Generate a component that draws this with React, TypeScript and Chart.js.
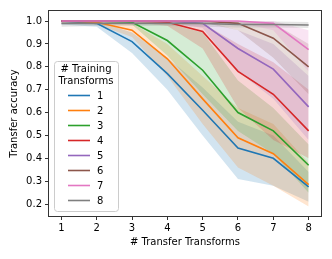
import React, { useEffect, useRef } from "react";
import { Chart, registerables } from "chart.js";

Chart.register(...registerables);

const xValues = [1, 2, 3, 4, 5, 6, 7, 8];
const xTicks = [1, 2, 3, 4, 5, 6, 7, 8];
const yTicks = [0.2, 0.3, 0.4, 0.5, 0.6, 0.7, 0.8, 0.9, 1.0];
const seriesLabels = ["1", "2", "3", "4", "5", "6", "7", "8"];
const colors = ["#1f77b4", "#ff7f0e", "#2ca02c", "#d62728", "#9467bd", "#8c564b", "#e377c2", "#7f7f7f"];

const acc1 = [1.0, 0.99, 0.91, 0.77, 0.61, 0.445, 0.4, 0.275];
const lo1 = [0.985, 0.975, 0.86, 0.7, 0.5, 0.31, 0.28, 0.21];
const hi1 = [1.0, 1.0, 0.95, 0.84, 0.71, 0.56, 0.5, 0.34];

const acc2 = [1.0, 0.995, 0.96, 0.835, 0.66, 0.49, 0.42, 0.285];
const lo2 = [0.99, 0.985, 0.93, 0.76, 0.55, 0.36, 0.28, 0.19];
const hi2 = [1.0, 1.0, 0.99, 0.9, 0.76, 0.62, 0.55, 0.38];

const acc3 = [1.0, 1.0, 0.995, 0.915, 0.785, 0.6, 0.52, 0.37];
const lo3 = [1.0, 0.995, 0.985, 0.85, 0.68, 0.52, 0.42, 0.25];
const hi3 = [1.0, 1.0, 1.0, 0.99, 0.95, 0.74, 0.62, 0.46];

const acc4 = [1.0, 1.0, 1.0, 0.995, 0.955, 0.78, 0.68, 0.52];
const lo4 = [1.0, 1.0, 0.995, 0.98, 0.88, 0.62, 0.48, 0.4];
const hi4 = [1.0, 1.0, 1.0, 1.0, 0.99, 0.9, 0.82, 0.7];

const acc5 = [1.0, 1.0, 1.0, 1.0, 0.99, 0.88, 0.79, 0.625];
const lo5 = [1.0, 1.0, 1.0, 0.995, 0.97, 0.78, 0.66, 0.48];
const hi5 = [1.0, 1.0, 1.0, 1.0, 1.0, 0.96, 0.9, 0.76];

const acc6 = [1.0, 1.0, 1.0, 1.0, 1.0, 0.99, 0.925, 0.8];
const lo6 = [1.0, 1.0, 1.0, 1.0, 0.995, 0.96, 0.84, 0.68];
const hi6 = [1.0, 1.0, 1.0, 1.0, 1.0, 1.0, 0.99, 0.9];

const acc7 = [1.0, 1.0, 1.0, 1.0, 1.0, 1.0, 0.99, 0.875];
const lo7 = [1.0, 1.0, 1.0, 1.0, 1.0, 0.995, 0.96, 0.78];
const hi7 = [1.0, 1.0, 1.0, 1.0, 1.0, 1.0, 1.0, 0.96];

const acc8 = [0.99, 0.99, 0.99, 0.99, 0.99, 0.985, 0.985, 0.983];
const lo8 = [0.975, 0.978, 0.978, 0.978, 0.975, 0.972, 0.972, 0.97];
const hi8 = [1.0, 1.0, 1.0, 1.0, 1.0, 0.998, 0.998, 0.996];

const series = [
  { mean: acc1, lo: lo1, hi: hi1 },
  { mean: acc2, lo: lo2, hi: hi2 },
  { mean: acc3, lo: lo3, hi: hi3 },
  { mean: acc4, lo: lo4, hi: hi4 },
  { mean: acc5, lo: lo5, hi: hi5 },
  { mean: acc6, lo: lo6, hi: hi6 },
  { mean: acc7, lo: lo7, hi: hi7 },
  { mean: acc8, lo: lo8, hi: hi8 },
];

const FONT = "'DejaVu Sans', sans-serif";

function hexToRgba(hex: string, a: number) {
  const n = parseInt(hex.slice(1), 16);
  return `rgba(${(n >> 16) & 255},${(n >> 8) & 255},${n & 255},${a})`;
}

const framePlugin = {
  id: "frame",
  afterDraw(chart: any) {
    const { ctx, chartArea } = chart;
    ctx.save();
    ctx.strokeStyle = "#333";
    ctx.lineWidth = 1;
    ctx.strokeRect(
      Math.round(chartArea.left) - 0.5,
      Math.round(chartArea.top) - 0.5,
      Math.round(chartArea.right - chartArea.left) + 1,
      Math.round(chartArea.bottom - chartArea.top) + 1
    );
    ctx.restore();
  },
};

const legendPlugin = {
  id: "mplLegend",
  afterDraw(chart: any) {
    const { ctx, chartArea } = chart;
    const x0 = chartArea.left + 5;
    const y0 = chartArea.top + 50;
    const w = 64;
    const h = 150;
    ctx.save();
    ctx.beginPath();
    ctx.roundRect(x0 + 0.5, y0 + 0.5, w, h, 3);
    ctx.fillStyle = "rgba(255,255,255,0.8)";
    ctx.fill();
    ctx.strokeStyle = "#cccccc";
    ctx.lineWidth = 1;
    ctx.stroke();
    ctx.fillStyle = "#000";
    ctx.font = `10px ${FONT}`;
    ctx.textAlign = "center";
    ctx.textBaseline = "middle";
    ctx.fillText("# Training", x0 + w / 2, y0 + 8.5);
    ctx.fillText("Transforms", x0 + w / 2, y0 + 20);
    ctx.textAlign = "left";
    seriesLabels.forEach((lab, i) => {
      const yy = y0 + 34.5 + i * 15;
      ctx.strokeStyle = colors[i];
      ctx.lineWidth = 1.6;
      ctx.beginPath();
      ctx.moveTo(x0 + 14, yy);
      ctx.lineTo(x0 + 36, yy);
      ctx.stroke();
      ctx.fillStyle = "#000";
      ctx.fillText(lab, x0 + 43, yy + 0.5);
    });
    ctx.restore();
  },
};

export default function App() {
  const ref = useRef<HTMLCanvasElement>(null);
  useEffect(() => {
    document.body.style.margin = "0";
    const datasets: any[] = [];
    series.forEach((s, i) => {
      const loIdx = datasets.length;
      datasets.push({
        label: `lo${i}`,
        data: xValues.map((x, j) => ({ x, y: s.lo[j] })),
        borderColor: "transparent",
        borderWidth: 0,
        pointRadius: 0,
        fill: false,
        order: 100 - i,
      });
      datasets.push({
        label: `hi${i}`,
        data: xValues.map((x, j) => ({ x, y: s.hi[j] })),
        borderColor: "transparent",
        borderWidth: 0,
        pointRadius: 0,
        backgroundColor: hexToRgba(colors[i], 0.2),
        fill: { target: loIdx },
        order: 100 - i,
      });
    });
    series.forEach((s, i) => {
      datasets.push({
        label: seriesLabels[i],
        data: xValues.map((x, j) => ({ x, y: s.mean[j] })),
        borderColor: colors[i],
        borderWidth: 1.6,
        pointRadius: 0,
        fill: false,
        tension: 0,
        order: 10 - i,
      });
    });
    const chart = new Chart(ref.current as HTMLCanvasElement, {
      type: "line",
      data: { datasets },
      options: {
        animation: false,
        responsive: false,
        layout: { padding: { top: 11, right: 11, left: 0, bottom: 0 } },
        plugins: { legend: { display: false }, tooltip: { enabled: false } },
        scales: {
          x: {
            type: "linear",
            min: 0.65,
            max: 8.35,
            afterBuildTicks: (scale: any) => {
              scale.ticks = xTicks.map((v) => ({ value: v }));
            },
            afterFit: (scale: any) => {
              scale.height = 43;
            },
            grid: { display: true, drawOnChartArea: false, drawTicks: true, tickLength: 4, color: "#333" },
            border: { display: false },
            ticks: { font: { family: FONT, size: 10 }, color: "#000", padding: 2, maxRotation: 0, callback: (v: any) => String(v) },
            title: { display: true, text: "# Transfer Transforms", font: { family: FONT, size: 10 }, color: "#000", padding: { top: 2, bottom: 11 } },
          },
          y: {
            type: "linear",
            min: 0.148,
            max: 1.044,
            afterBuildTicks: (scale: any) => {
              scale.ticks = yTicks.map((v) => ({ value: v }));
            },
            afterFit: (scale: any) => {
              scale.width = 49;
            },
            grid: { display: true, drawOnChartArea: false, drawTicks: true, tickLength: 4, color: "#333" },
            border: { display: false },
            ticks: { font: { family: FONT, size: 10 }, color: "#000", padding: 3, callback: (v: any) => Number(v).toFixed(1) },
            title: { display: true, text: "Transfer accuracy", font: { family: FONT, size: 10 }, color: "#000", padding: { top: 8, bottom: 0 } },
          },
        },
      },
      plugins: [framePlugin, legendPlugin],
    });
    return () => chart.destroy();
  }, []);
  return (
    <div style={{ width: 332, height: 259, background: "#fff" }}>
      <canvas ref={ref} width={332} height={259} style={{ display: "block" }} />
    </div>
  );
}
